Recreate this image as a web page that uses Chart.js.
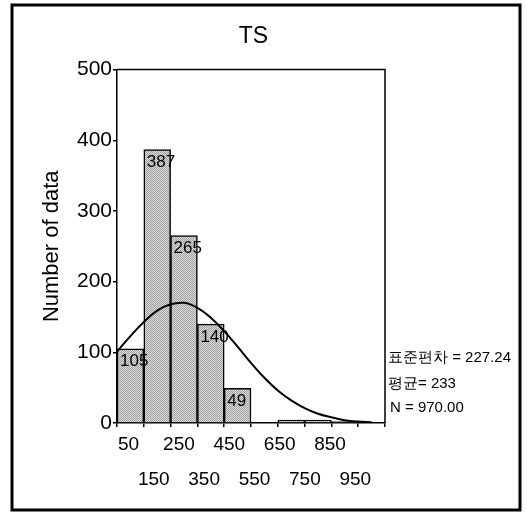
<!DOCTYPE html>
<html>
<head>
<meta charset="utf-8">
<script src="https://cdn.jsdelivr.net/npm/chart.js@4.4.0/dist/chart.umd.min.js"></script>
<style>
  html, body { margin: 0; padding: 0; background: #fff; }
  canvas { display: block; }
</style>
</head>
<body>
<canvas id="tsChart" width="527" height="514"></canvas>
<script>
// histogram bins (bin centers) and counts
const binCenters = [50, 150, 250, 350, 450, 550, 650, 750, 850, 950];
const binCounts = [105, 387, 265, 140, 49, 0, 4, 4, 2, 0];

// normal curve, every 50 units
const curveX = [0, 50, 100, 150, 200, 250, 300, 350, 400, 450, 500, 550, 600, 650, 700, 750, 800, 850, 900, 950];
const curveY = [101, 123, 143, 159, 168, 170, 163, 149, 130, 108, 85, 64, 46, 32, 21, 13, 8, 4, 2, 1];

const xTickLabels = ['50', '150', '250', '350', '450', '550', '650', '750', '850', '950'];
const statLines = ['표준편차 = 227.24', '평균= 233', 'N = 970.00'];

const FONT = 'Arial, "Liberation Sans", sans-serif';

// halftone-ish gray fill for the bars
function makePattern() {
    const c = document.createElement('canvas');
    c.width = 2; c.height = 2;
    const g = c.getContext('2d');
    g.fillStyle = '#dcdcdc'; g.fillRect(0, 0, 2, 2);
    g.fillStyle = '#a0a0a0'; g.fillRect(0, 0, 1, 1); g.fillRect(1, 1, 1, 1);
    return g.createPattern(c, 'repeat');
}

// count labels in the top-left corner of each bar
const barLabels = {
    id: 'barLabels',
    afterDatasetsDraw(chart) {
        const ctx = chart.ctx;
        const meta = chart.getDatasetMeta(1);
        ctx.save();
        ctx.font = '17px ' + FONT;
        ctx.fillStyle = '#000';
        ctx.textBaseline = 'middle';
        ctx.textAlign = 'left';
        meta.data.forEach((bar, i) => {
            if (binCounts[i] < 20) return;
            const left = bar.x - bar.width / 2;
            ctx.fillText(String(binCounts[i]), left + 3, bar.y + 13);
        });
        ctx.restore();
    }
};

// box around the plot, stats text and outer frame
const frame = {
    id: 'frame',
    afterDraw(chart) {
        const ctx = chart.ctx;
        const a = chart.chartArea;
        ctx.save();
        ctx.strokeStyle = '#000';
        ctx.lineWidth = 1.5;
        ctx.beginPath();
        ctx.moveTo(a.left, a.top);
        ctx.lineTo(a.right, a.top);
        ctx.lineTo(a.right, a.bottom);
        ctx.stroke();

        ctx.save();
        ctx.beginPath();
        ctx.rect(0, 0, 518, 514);
        ctx.clip();
        ctx.font = '15px ' + FONT;
        ctx.fillStyle = '#000';
        ctx.textBaseline = 'middle';
        ctx.fillText(statLines[0], 388, 358);
        ctx.fillText(statLines[1], 388, 384);
        ctx.fillText(statLines[2], 390, 408);
        ctx.restore();

        ctx.lineWidth = 3;
        ctx.strokeRect(12, 5, 508, 505);
        ctx.restore();
    }
};

window.onload = function () {
    const ctx = document.getElementById('tsChart');
    new Chart(ctx, {
        data: {
            datasets: [{
                type: 'line',
                data: curveX.map((x, i) => ({ x: x, y: curveY[i] })),
                borderColor: '#000',
                borderWidth: 2,
                pointRadius: 0,
                tension: 0.4,
                fill: false,
                xAxisID: 'x'
            }, {
                type: 'bar',
                data: binCenters.map((x, i) => ({ x: x, y: binCounts[i] })),
                backgroundColor: makePattern(),
                borderColor: '#000',
                borderWidth: 1.5,
                barPercentage: 1,
                categoryPercentage: 1,
                xAxisID: 'x'
            }]
        },
        options: {
            responsive: false,
            animation: false,
            layout: { padding: { left: 14, right: 34, top: 0, bottom: 0 } },
            plugins: {
                legend: { display: false },
                tooltip: { enabled: false },
                title: {
                    display: true,
                    text: 'TS',
                    color: '#000',
                    font: { family: FONT, size: 23, weight: 'normal' },
                    padding: { top: 23, bottom: 19 }
                }
            },
            scales: {
                x: {
                    type: 'linear',
                    position: 'bottom',
                    offset: false,
                    min: 0,
                    max: 1000,
                    afterBuildTicks: s => { s.ticks = binCenters.map(v => ({ value: v })); },
                    ticks: { display: false },
                    grid: { drawOnChartArea: false, tickLength: 4, color: '#000', lineWidth: 1.5 },
                    border: { color: '#000', width: 1.5 },
                    afterFit: s => { s.height = 4; }
                },
                // label axis: tick labels in the source sit a little closer together than the bins
                x2: {
                    type: 'linear',
                    position: 'bottom',
                    offset: false,
                    min: 4.2,
                    max: 1068.1,
                    afterBuildTicks: s => { s.ticks = binCenters.map(v => ({ value: v })); },
                    ticks: {
                        color: '#000',
                        padding: -8,
                        maxRotation: 0,
                        autoSkip: false,
                        font: { family: FONT, size: 19, lineHeight: 1.85 },
                        callback: (v, i) => i % 2 === 0 ? xTickLabels[i] : ['', xTickLabels[i]]
                    },
                    grid: { display: false },
                    border: { display: false },
                    afterFit: s => { s.height = 87; }
                },
                y: {
                    min: 0,
                    max: 500,
                    ticks: { stepSize: 100, color: '#000', padding: 1, font: { family: FONT, size: 21 } },
                    grid: { drawOnChartArea: false, tickLength: 4, color: '#000', lineWidth: 1.5 },
                    border: { color: '#000', width: 1.5 },
                    title: {
                        display: true,
                        text: 'Number of data',
                        color: '#000',
                        font: { family: FONT, size: 22 },
                        padding: { top: 25, bottom: 0 }
                    },
                    afterFit: s => { s.width = 103; }
                },
                // empty right axis that keeps room for the statistics text
                yRight: {
                    position: 'right',
                    min: 0,
                    max: 500,
                    ticks: { display: false },
                    grid: { display: false },
                    border: { display: false },
                    afterFit: s => { s.width = 108; }
                }
            }
        },
        plugins: [barLabels, frame]
    });
};
</script>
</body>
</html>
